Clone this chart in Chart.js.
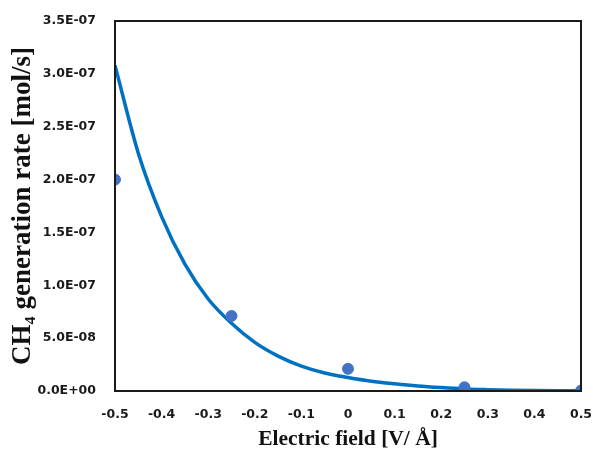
<!DOCTYPE html>
<html>
<head>
<meta charset="utf-8">
<script src="https://cdn.jsdelivr.net/npm/chart.js@4/dist/chart.umd.min.js"></script>
<style>
    html, body { margin: 0; padding: 0; background: #ffffff; }
    #wrap { width: 593px; height: 450px; }
</style>
</head>
<body>
<div id="wrap"><canvas id="rateChart" width="593" height="450"></canvas></div>
<script>
/*
------------------------------------------------------------
data
------------------------------------------------------------
*/

// measured points
const fieldValues = [-0.5, -0.25, 0, 0.25, 0.5];
const rateValues = [2.0e-7, 7.1e-8, 2.1e-8, 3.5e-9, 4e-10];

// trend line
const trendField = [
    -0.5, -0.45, -0.4, -0.35, -0.3, -0.25, -0.2, -0.15, -0.1, -0.05,
    0, 0.05, 0.1, 0.15, 0.2, 0.25, 0.3, 0.35, 0.4, 0.45, 0.5
];
const trendRate = [
    3.08e-7, 2.25e-7, 1.65e-7, 1.20e-7, 0.87e-7, 0.64e-7, 0.46e-7, 0.33e-7, 0.235e-7, 0.17e-7,
    0.128e-7, 0.093e-7, 0.068e-7, 0.047e-7, 0.032e-7, 0.02e-7, 0.013e-7, 0.008e-7, 0.005e-7, 0.003e-7, 0.002e-7
];

const yTitle = "CH\u2084 generation rate [mol/s]";
const xTitle = "Electric field [V/ \u00C5]";

/*
------------------------------------------------------------
helpers
------------------------------------------------------------
*/

function sciLabel(v) {
    if (Math.abs(v) < 1e-15) return "0.0E+00";
    const parts = v.toExponential(1).split("e");
    const exp = parseInt(parts[1], 10);
    const sign = exp < 0 ? "-" : "+";
    const digits = String(Math.abs(exp)).padStart(2, "0");
    return parts[0] + "E" + sign + digits;
}

const boxPlugin = {
    id: "plotBox",
    afterDatasetsDraw(chart) {
        const a = chart.chartArea;
        const ctx = chart.ctx;
        ctx.save();
        ctx.strokeStyle = "#1a1a1a";
        ctx.lineWidth = 2;
        ctx.strokeRect(a.left, a.top, a.right - a.left, a.bottom - a.top);
        ctx.restore();
    }
};

/*
------------------------------------------------------------
chart
------------------------------------------------------------
*/

const tickFont = { family: "'DejaVu Sans', sans-serif", size: 12.5, weight: "bold" };
const serif = "'Liberation Serif', 'DejaVu Serif', serif";

new Chart(document.getElementById("rateChart").getContext("2d"), {
    type: "scatter",
    data: {
        datasets: [
            {
                label: "measured",
                data: fieldValues.map((x, i) => ({ x: x, y: rateValues[i] })),
                backgroundColor: "#4472C4",
                borderColor: "#4472C4",
                pointRadius: 5.5,
                order: 0
            },
            {
                label: "trend",
                data: trendField.map((x, i) => ({ x: x, y: trendRate[i] })),
                showLine: true,
                borderColor: "#0070C0",
                borderWidth: 3.5,
                pointRadius: 0,
                cubicInterpolationMode: "monotone",
                order: 1
            }
        ]
    },
    options: {
        responsive: false,
        animation: false,
        layout: { padding: { top: 21, right: 12, left: 7, bottom: 0 } },
        plugins: {
            legend: { display: false },
            tooltip: { enabled: false }
        },
        scales: {
            x: {
                type: "linear",
                min: -0.5,
                max: 0.5,
                grid: { display: false },
                border: { display: false },
                afterFit: s => {
                    s.height = 59;
                    s.paddingRight = 0;
                    s.paddingLeft = 0;
                },
                ticks: {
                    stepSize: 0.1,
                    padding: 8,
                    color: "#1a1a1a",
                    font: tickFont,
                    callback: v => String(Number(v.toFixed(1)))
                },
                title: {
                    display: true,
                    text: xTitle,
                    color: "#111111",
                    font: { family: serif, size: 21.5, weight: "bold" },
                    padding: { top: 0, bottom: -2 }
                }
            },
            y: {
                min: 0,
                max: 3.5e-7,
                grid: { display: false },
                border: { display: false },
                afterFit: s => {
                    s.width = 108;
                    s.paddingTop = 0;
                    s.paddingBottom = 0;
                },
                ticks: {
                    stepSize: 0.5e-7,
                    padding: 11,
                    color: "#1a1a1a",
                    font: tickFont,
                    callback: v => sciLabel(v)
                },
                title: {
                    display: true,
                    text: yTitle,
                    color: "#111111",
                    font: { family: serif, size: 27, weight: "bold" },
                    padding: { top: 0, bottom: 0 }
                }
            }
        }
    },
    plugins: [boxPlugin]
});
</script>
</body>
</html>
